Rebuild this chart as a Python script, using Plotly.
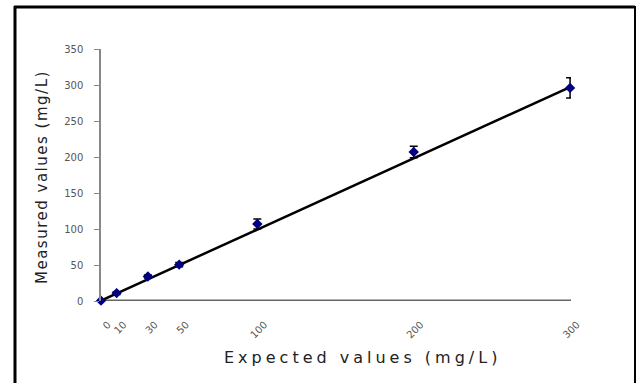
import plotly.graph_objects as go

expected = [0, 10, 30, 50, 100, 200, 300]
measured = [0.5, 11, 34, 50.5, 107, 207, 296]
errors = [1.5, 2, 2, 3, 7, 8, 14]
trend_x = [0, 300]
trend_y = [0.5, 297]
y_ticks = [0, 50, 100, 150, 200, 250, 300, 350]

W, H = 636, 383
L, R, T, B = 101, 65, 49, 82
pw = W - L - R
ph = H - T - B

def px(x):
    return (x - L) / pw

def py(y):
    return (H - B - y) / ph

FONT = "DejaVu Sans, Arial, sans-serif"

fig = go.Figure()
fig.add_trace(go.Scatter(x=trend_x, y=trend_y, mode="lines",
                         line=dict(color="black", width=2.5),
                         showlegend=False, cliponaxis=False))
fig.add_trace(go.Scatter(x=expected, y=measured, mode="markers",
                         marker=dict(symbol="diamond", size=8, color="#000080"),
                         error_y=dict(type="data", array=errors, color="black",
                                      thickness=1.5, width=4),
                         showlegend=False, cliponaxis=False))

fig.update_layout(
    width=W, height=H,
    margin=dict(l=L, r=R, t=T, b=B),
    paper_bgcolor="white", plot_bgcolor="white",
    font=dict(family=FONT),
    xaxis=dict(range=[0, 300.6], tickmode="array", tickvals=expected,
               ticktext=[str(v) for v in expected], tickangle=-45,
               tickfont=dict(size=10, color="#555"),
               showgrid=False, zeroline=False, showline=False,
               ticks="", ticklabelstandoff=15, ticklabelshift=7),
    yaxis=dict(range=[0, 350], tickmode="array", tickvals=y_ticks,
               tickfont=dict(size=10, color="#555"),
               showgrid=False, zeroline=False, showline=True,
               linecolor="#888", linewidth=1.5,
               ticks="outside", ticklen=5, tickcolor="#888",
               ticklabelstandoff=9),
    shapes=[
        dict(type="line", xref="x", yref="y", x0=0, x1=300.6, y0=0, y1=0,
             line=dict(color="#666", width=3), layer="below"),
        dict(type="line", xref="paper", yref="paper", x0=px(15), x1=px(15),
             y0=py(6), y1=py(390), line=dict(color="black", width=3)),
        dict(type="line", xref="paper", yref="paper", x0=px(14), x1=px(635),
             y0=py(7), y1=py(7), line=dict(color="black", width=3)),
        dict(type="line", xref="paper", yref="paper", x0=px(635), x1=px(635),
             y0=py(6), y1=py(390), line=dict(color="black", width=2)),
    ],
    annotations=[
        dict(text='<span style="letter-spacing:1.5px">Measured values (mg/L)</span>',
             xref="paper", yref="paper", xanchor="center", yanchor="middle",
             x=px(42), y=py(177), textangle=-90, showarrow=False,
             font=dict(size=15, color="#222")),
        dict(text='<span style="letter-spacing:4px">Expected values (mg/L)</span>',
             xref="paper", yref="paper", xanchor="center", yanchor="middle",
             x=px(362), y=py(357), showarrow=False,
             font=dict(size=16, color="#222")),
    ],
)

fig.write_html("out.html", config={"displayModeBar": False},
               post_script="document.body.style.margin='0';")
